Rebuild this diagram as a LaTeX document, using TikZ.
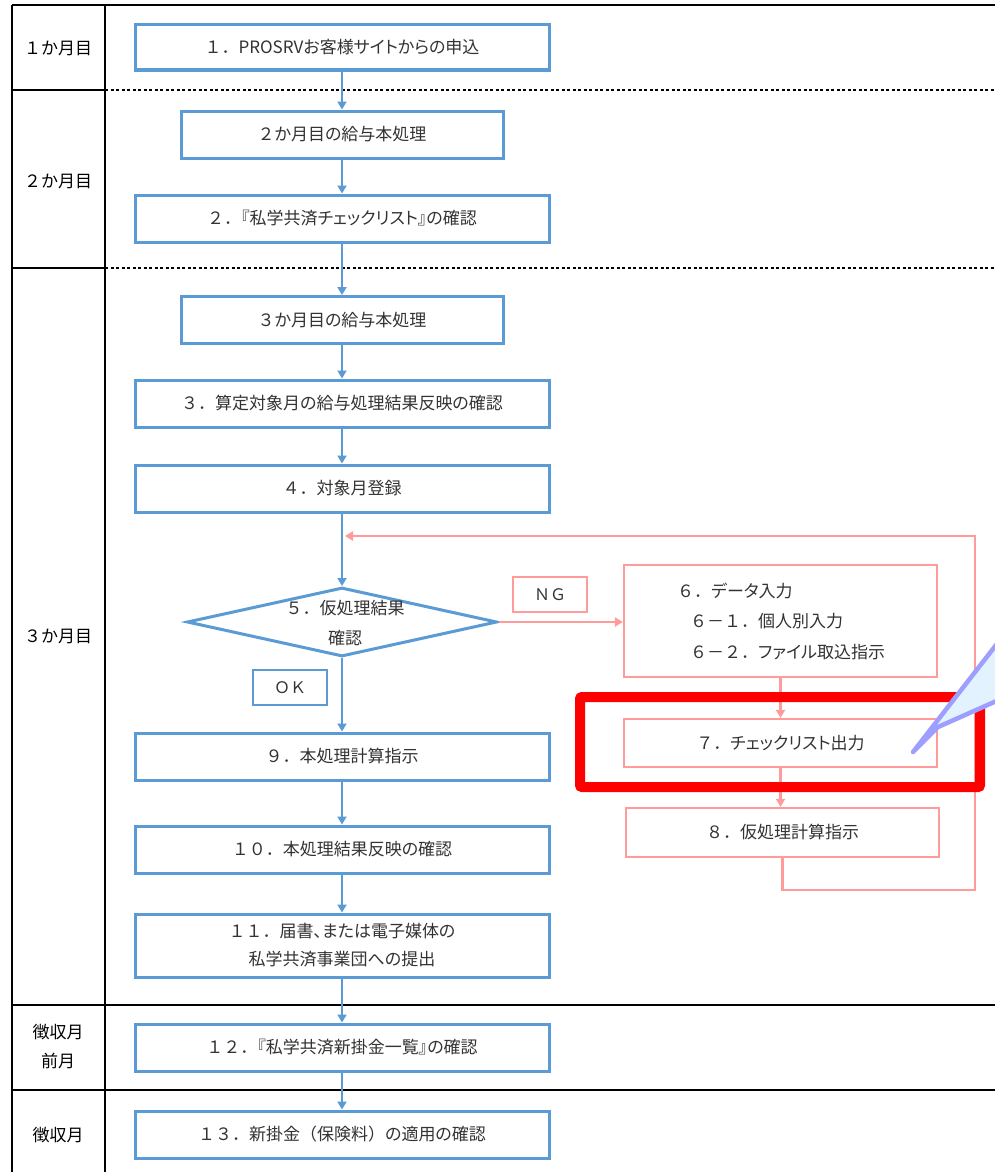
\documentclass[tikz,border=0pt]{standalone}
\usepackage{fontspec}
\setmainfont{Noto Sans CJK JP}
\newfontfamily\pp{Noto Sans CJK JP}[RawFeature=+palt]
\newfontfamily\fw{Noto Sans CJK JP}
\newcommand\fwn[1]{{\fw #1}}
\usetikzlibrary{shapes.geometric,arrows.meta}
\definecolor{bl}{HTML}{5B9BD5}
\definecolor{pk}{HTML}{FF9B9B}
\definecolor{tx}{HTML}{333333}
\definecolor{cb}{HTML}{9E9EFF}
\definecolor{cf}{HTML}{E3F2FF}
\begin{document}
\begin{tikzpicture}[x=1pt,y=-1pt,
  bbox/.style={draw=bl,line width=3pt,fill=white,text=tx,font=\fontsize{17}{28}\selectfont\pp,inner sep=0pt,minimum height=47pt,align=center},
  wide/.style={bbox,minimum width=414pt},
  pbox/.style={draw=pk,line width=2.2pt,fill=white,text=tx,font=\fontsize{17}{28}\selectfont\pp,inner sep=0pt,minimum width=313pt,minimum height=48pt},
  tag/.style={line width=2.2pt,fill=white,text=tx,font=\fontsize{16}{20}\selectfont\fw,inner sep=0pt,minimum width=74pt,minimum height=35pt},
  txt/.style={text=tx,font=\fontsize{17}{30}\selectfont\pp,inner sep=0pt,align=center},
  barrow/.style={draw=bl,line width=2.6pt,-{Triangle[length=8pt,width=9pt]}},
  parrow/.style={draw=pk,line width=2.2pt,-{Triangle[length=8pt,width=9pt]}},
  gridline/.style={draw=black,line width=1.6pt},
  dots/.style={draw=black,line width=1.4pt,dash pattern=on 3pt off 2.5pt},
  lbl/.style={text=black,font=\fontsize{17}{29}\selectfont\fw,align=center,inner sep=0pt}
]
\useasboundingbox (0,0) rectangle (995,1172);
\clip (0,0) rectangle (995,1172);
\fill[white] (0,0) rectangle (995,1172);
% table
\draw[gridline] (12,5) -- (995,5);
\draw[gridline] (12,5) -- (12,1172);
\draw[gridline] (105,5) -- (105,1172);
\draw[gridline] (12,90) -- (105,90);
\draw[gridline] (12,268) -- (105,268);
\draw[dots] (105,90) -- (995,90);
\draw[dots] (105,268) -- (995,268);
\draw[gridline] (12,1005) -- (995,1005);
\draw[gridline] (12,1090) -- (995,1090);
% labels
\node[lbl] (l1) at (58,48) {１か月目};
\node[lbl] (l2) at (58,181) {２か月目};
\node[lbl] (l3) at (58,636) {３か月目};
\node[lbl] (l4) at (58,1047) {徴収月\\前月};
\node[lbl] (l5) at (58,1135) {徴収月};
% main boxes
\node[wide,minimum height=45pt] (b1) at (342,47.5) {\fwn{１．}PROSRVお客様サイトからの申込};
\node[bbox,minimum width=322pt] (b2m) at (342,134.5) {\fwn{２}か月目の給与本処理};
\node[wide] (b2) at (342,218.5) {\fwn{２．}『私学共済チェックリスト』の確認};
\node[bbox,minimum width=322pt] (b3m) at (342,320) {\fwn{３}か月目の給与本処理};
\node[wide] (b3) at (342,403.5) {\fwn{３．}算定対象月の給与処理結果反映の確認};
\node[wide] (b4) at (342,488.5) {\fwn{４．}対象月登録};
\node[diamond,draw=bl,line width=3pt,fill=white,minimum width=310pt,minimum height=69pt,inner sep=0pt] (d5) at (342,622) {};
\node[txt] (d5t) at (345,623) {\fwn{５．}仮処理結果\\確認};
\node[tag,draw=bl] (ok) at (290,687.5) {ＯＫ};
\node[wide] (b9) at (342,756.5) {\fwn{９．}本処理計算指示};
\node[wide] (b10) at (342,849.5) {\fwn{１０．}本処理結果反映の確認};
\node[wide,minimum height=63pt] (b11) at (342,945.5) {\fwn{１１．}届書、または電子媒体の\\私学共済事業団への提出};
\node[wide] (b12) at (342,1047.5) {\fwn{１２．}『私学共済新掛金一覧』の確認};
\node[wide] (b13) at (342,1134.5) {\fwn{１３．}新掛金\fwn{（}保険料\fwn{）}の適用の確認};
% right branch
\node[tag,draw=pk] (ng) at (550,594.5) {ＮＧ};
\node[pbox,minimum height=112pt] (b6) at (780.5,621) {};
\node[txt,anchor=west] (t61) at (677,591) {\fwn{６．}データ入力};
\node[txt,anchor=west] (t62) at (690,621) {\fwn{６－１．}個人別入力};
\node[txt,anchor=west] (t63) at (690,652) {\fwn{６－２．}ファイル取込指示};
\node[pbox] (b7) at (780.5,743) {\fwn{７．}チェックリスト出力};
\node[pbox,minimum height=49pt] (b8) at (782.5,832.5) {\fwn{８．}仮処理計算指示};
% connectors
\draw[barrow] (b1) -- (b2m);
\draw[barrow] (b2m) -- (b2);
\draw[barrow] (b2) -- (b3m);
\draw[barrow] (b3m) -- (b3);
\draw[barrow] (b3) -- (b4);
\draw[barrow] (b4.south) -- (d5.north);
\draw[barrow] (d5.south) -- (b9.north);
\draw[barrow] (b9) -- (b10);
\draw[barrow] (b10) -- (b11);
\draw[barrow] (b11) -- (b12);
\draw[barrow] (b12) -- (b13);
\draw[parrow] (d5.east) -- (d5.east -| b6.west);
\draw[parrow] (b6.south) -- (b7.north);
\draw[parrow] (b7.south) -- (b7.south |- b8.north);
\coordinate (c2) at (975,890);
\coordinate (c3) at (975,536);
\coordinate (m) at (345,536);
\draw[parrow] (b8.south) |- (c2) -- (c3) -- (m);
% highlight
\draw[red,line width=10pt,rounded corners=2pt] (580,697) rectangle (980,787);
% callout
\coordinate (tip) at (913,752);
\filldraw[draw=cb,fill=cf,line width=4.5pt,line join=round,line cap=round] (tip) -- (1010,627) -- (1010,695) -- (938,727) -- cycle;
\end{tikzpicture}
\end{document}
